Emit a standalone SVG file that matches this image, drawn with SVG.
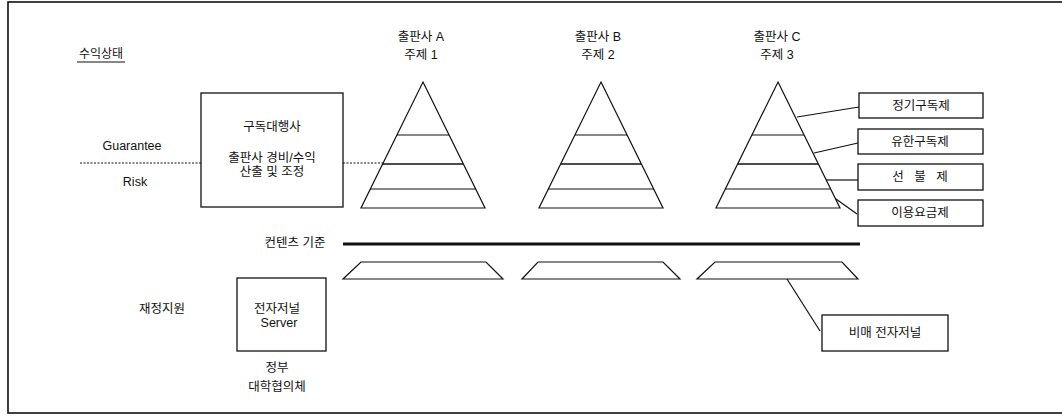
<svg xmlns="http://www.w3.org/2000/svg" width="1062" height="416" viewBox="0 0 1062 416">
<style>
text{font-family:"Liberation Sans","Noto Sans CJK KR",sans-serif;font-size:12.5px;fill:#111;text-anchor:middle;dominant-baseline:central}
.s{fill:none;stroke:#111;stroke-width:1.2}
.box{fill:#fff;stroke:#111;stroke-width:1.3}
.dot{stroke:#111;stroke-width:1;stroke-dasharray:2 1.5;fill:none}
</style>
<rect x="8" y="2" width="1062" height="411" fill="none" stroke="#111" stroke-width="1.6"/>
<g id="title"><text x="101" y="54" style="font-size:12px">수익상태</text><line x1="77" y1="62" x2="125" y2="62" stroke="#111" stroke-width="1"/></g>
<g id="labels">
<text x="132" y="146">Guarantee</text>
<text x="135" y="182">Risk</text>
<text x="295" y="243">컨텐츠 기준</text>
<text x="162" y="309">재정지원</text>
<text x="277" y="368">정부</text>
<text x="277" y="387">대학협의체</text>
</g>
<g id="connectors">
<line class="dot" x1="80" y1="163" x2="201" y2="163"/>
<line class="dot" x1="343" y1="163" x2="384" y2="163"/>
<line x1="343" y1="244" x2="860" y2="244" stroke="#111" stroke-width="3"/>
<polyline class="s" points="797,117 859,107"/>
<polyline class="s" points="814,153 858,143"/>
<polyline class="s" points="826,180 858,180"/>
<polyline class="s" points="836,199 857,214"/>
<polyline class="s" points="787,279 820,331"/>
</g>
<g id="agency"><rect class="box" x="201" y="93" width="142" height="114"/>
<text x="272" y="127">구독대행사</text><text x="272" y="158">출판사 경비/수익</text><text x="272" y="172">산출 및 조정</text></g>
<g id="pubA"><text x="421" y="37">출판사 A</text><text x="421" y="55">주제 1</text>
<polygon class="s" points="423,82 485,208 361,208"/>
<line class="s" x1="397" y1="135" x2="449" y2="135"/><line x1="383" y1="164" x2="463" y2="164" stroke="#111" stroke-width="1.6"/><line class="s" x1="370" y1="189" x2="476" y2="189"/></g>
<g id="pubB"><text x="598" y="37">출판사 B</text><text x="598" y="55">주제 2</text>
<polygon class="s" points="601,82 663,208 539,208"/>
<line class="s" x1="575" y1="135" x2="627" y2="135"/><line x1="561" y1="164" x2="641" y2="164" stroke="#111" stroke-width="1.6"/><line class="s" x1="548" y1="189" x2="654" y2="189"/></g>
<g id="pubC"><text x="777" y="37">출판사 C</text><text x="777" y="55">주제 3</text>
<polygon class="s" points="778,82 840,208 716,208"/>
<line class="s" x1="752" y1="135" x2="804" y2="135"/><line x1="738" y1="164" x2="818" y2="164" stroke="#111" stroke-width="1.6"/><line class="s" x1="725" y1="189" x2="831" y2="189"/></g>
<g id="plan1"><rect class="box" x="859" y="93" width="124" height="25"/><text x="921" y="106">정기구독제</text></g>
<g id="plan2"><rect class="box" x="858" y="129" width="125" height="25"/><text x="920" y="142">유한구독제</text></g>
<g id="plan3"><rect class="box" x="858" y="164" width="125" height="26"/><text x="920" y="177" xml:space="preserve">선   불   제</text></g>
<g id="plan4"><rect class="box" x="858" y="200" width="125" height="26"/><text x="920" y="213">이용요금제</text></g>
<g id="trapA"><polygon class="s" points="361,262 486,262 503,279 343,279"/></g>
<g id="trapB"><polygon class="s" points="538,262 663,262 680,279 522,279"/></g>
<g id="trapC"><polygon class="s" points="715,262 842,262 858,279 697,279"/></g>
<g id="nonsale"><rect class="box" x="822" y="315" width="126" height="36"/><text x="885" y="333">비매 전자저널</text></g>
<g id="server"><rect class="box" x="237" y="278" width="89" height="73"/><text x="277" y="309">전자저널</text><text x="279" y="323">Server</text></g>
</svg>
